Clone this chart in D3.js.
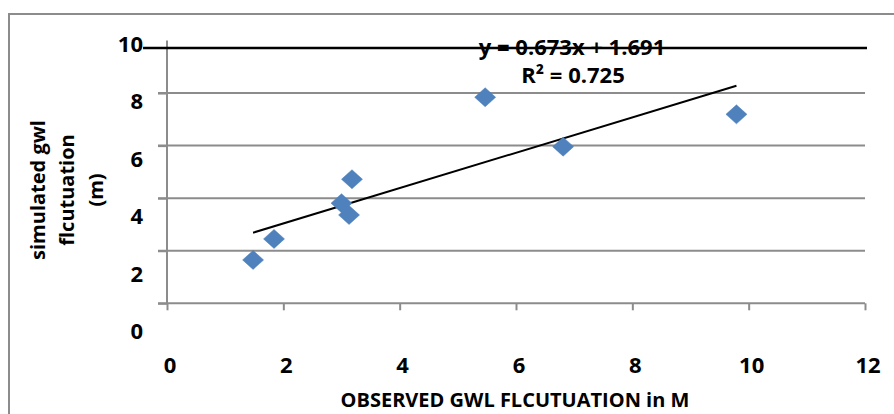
<!DOCTYPE html>
<html>
<head>
<meta charset="utf-8">
<script src="https://cdn.jsdelivr.net/npm/d3@7"></script>
<style>
  body { margin: 0; background: #fff; }
  svg { display: block; font-family: "Open Sans", Lato, sans-serif; font-weight: bold; }
</style>
</head>
<body>
<svg id="chart"></svg>
<script>
// observed vs simulated groundwater level fluctuation
var observed = [1.48, 1.84, 3.00, 3.13, 3.18, 5.47, 6.81, 9.79];
var simulated = [1.65, 2.45, 3.81, 3.36, 4.72, 7.84, 5.96, 7.19];
var xTicks = [0, 2, 4, 6, 8, 10, 12];
var yTicks = [0, 2, 4, 6, 8, 10];
var slope = 0.673;
var intercept = 1.691;
var rSquared = 0.725;

document.addEventListener('DOMContentLoaded', () => {
  var W = 894, H = 414;
  var svg = d3.select('#chart').attr('width', W).attr('height', H);

  var x = d3.scaleLinear().domain([0, 12]).range([167, 865]);
  var y = d3.scaleLinear().domain([0, 10]).range([303.3, 40.5]);
  // tick labels in the picture sit on their own, looser spacing
  var yLabel = d3.scaleLinear().domain([0, 10]).range([331, 44]);

  // outer frame
  svg.append('path')
    .attr('d', `M9,${H + 2} L9,14 L${W + 2},14`)
    .attr('fill', 'none')
    .attr('stroke', '#8c8c8c')
    .attr('stroke-width', 2);

  // horizontal gridlines
  svg.append('g')
    .selectAll('line')
    .data(yTicks.filter(d => d > 0 && d < 10))
    .enter().append('line')
      .attr('x1', 158).attr('x2', x(12))
      .attr('y1', d => y(d)).attr('y2', d => y(d))
      .attr('stroke', '#8c8c8c')
      .attr('stroke-width', 2);

  // x axis
  var xAxis = d3.axisBottom(x).tickValues(xTicks).tickSize(7).tickFormat('');
  var gx = svg.append('g')
    .attr('transform', `translate(0, ${y(0)})`)
    .call(xAxis);
  gx.select('.domain').remove();
  gx.append('line')
    .attr('x1', x(0) - 9).attr('x2', x(12))
    .attr('stroke', '#8c8c8c').attr('stroke-width', 2);
  gx.selectAll('.tick line').attr('stroke', '#8c8c8c').attr('stroke-width', 2);

  // y axis
  var yAxis = d3.axisLeft(y).tickValues(yTicks.filter(d => d < 10)).tickSize(9).tickFormat('');
  var gy = svg.append('g')
    .attr('transform', `translate(${x(0)}, 0)`)
    .call(yAxis);
  gy.select('.domain').remove();
  gy.append('line')
    .attr('y1', y(10)).attr('y2', y(0))
    .attr('stroke', '#8c8c8c').attr('stroke-width', 2);
  gy.selectAll('.tick line').attr('stroke', '#8c8c8c').attr('stroke-width', 2);

  // x tick labels
  svg.append('g')
    .selectAll('text')
    .data(xTicks)
    .enter().append('text')
      .attr('x', d => x(d) + 3)
      .attr('y', 373)
      .attr('text-anchor', 'middle')
      .attr('font-size', 22)
      .text(d => d);

  // y tick labels
  svg.append('g')
    .selectAll('text')
    .data(yTicks)
    .enter().append('text')
      .attr('x', 143)
      .attr('y', d => yLabel(d) + 8)
      .attr('text-anchor', 'end')
      .attr('font-size', 22)
      .text(d => d);

  // stray black line across the top
  svg.append('line')
    .attr('x1', 143).attr('x2', 867)
    .attr('y1', 48).attr('y2', 48)
    .attr('stroke', '#000')
    .attr('stroke-width', 2.5);

  // trendline
  var xr = d3.extent(observed);
  svg.append('line')
    .attr('x1', x(xr[0])).attr('y1', y(slope * xr[0] + intercept))
    .attr('x2', x(xr[1])).attr('y2', y(slope * xr[1] + intercept))
    .attr('stroke', '#000')
    .attr('stroke-width', 2);

  // markers
  svg.append('g')
    .selectAll('path')
    .data(observed)
    .enter().append('path')
      .attr('d', 'M0,-9.5 L10.5,0 L0,9.5 L-10.5,0 Z')
      .attr('transform', (d, i) => `translate(${x(d)}, ${y(simulated[i])})`)
      .attr('fill', '#4f81bd')
      .attr('stroke', '#4a7ebb')
      .attr('stroke-width', 0.5);

  // equation
  svg.append('text')
    .attr('x', 572).attr('y', 55)
    .attr('text-anchor', 'middle')
    .attr('font-size', 22)
    .text(`y = ${slope}x + ${intercept}`);
  svg.append('text')
    .attr('x', 573).attr('y', 83)
    .attr('text-anchor', 'middle')
    .attr('font-size', 22)
    .text(`R² = ${rSquared}`);

  // axis titles
  svg.append('text')
    .attr('x', 515).attr('y', 407)
    .attr('text-anchor', 'middle')
    .attr('font-size', 20)
    .text('OBSERVED GWL FLCUTUATION in M');

  var ty = svg.append('text')
    .attr('transform', 'translate(0, 190) rotate(-90)')
    .attr('text-anchor', 'middle')
    .attr('font-size', 20);
  ['simulated gwl', 'flcutuation', '(m)'].forEach((s, i) => {
    ty.append('tspan')
      .attr('x', 0)
      .attr('y', 45 + i * 29)
      .text(s);
  });
});
</script>
</body>
</html>
